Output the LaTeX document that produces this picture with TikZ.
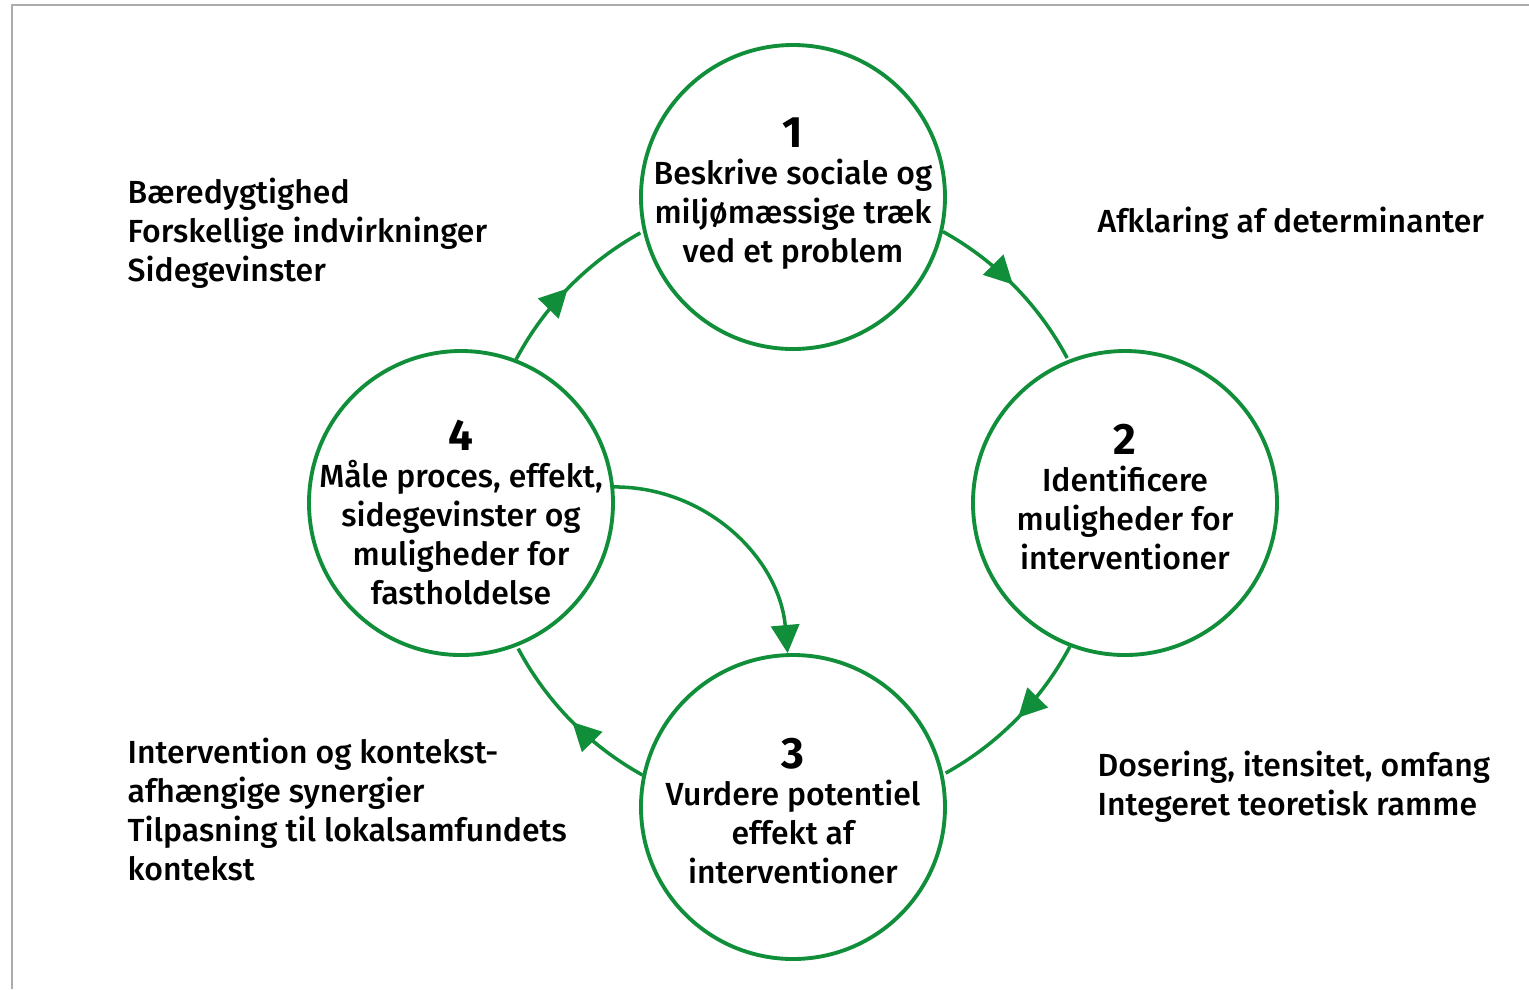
\documentclass[tikz,border=0pt]{standalone}
\usepackage{fontspec}
\setmainfont{Fira Sans}[UprightFont={* Medium}, BoldFont={* Bold}]
\usetikzlibrary{arrows.meta,decorations.markings}

\definecolor{cyclegreen}{RGB}{16,142,58}
\definecolor{framegray}{RGB}{172,172,172}

\tikzset{
    fase/.style={circle, draw=cyclegreen, line width=1.1pt, minimum size=3.04cm, inner sep=0pt},
    fasetekst/.style={align=center, inner sep=0pt, font=\fontsize{9.1}{11.1}\selectfont},
    pil/.style={cyclegreen, line width=1pt},
    midpil/.style={pil, postaction={decorate},
        decoration={markings, mark=at position 0.49 with {\arrow{Triangle[length=8pt,width=8pt]}}}},
    sidetekst/.style={anchor=north west, inner sep=0pt, align=left,
        font=\fontsize{9.1}{11.1}\selectfont},
}
\newcommand{\nr}[1]{{\fontsize{12.5}{14}\selectfont\bfseries #1}}

\begin{document}
\begin{tikzpicture}
    % Frame of the page (1 unit = 100 px, origin at the centre of the cycle)
    \useasboundingbox (-7.93,-4.86) rectangle (7.36,5.03);
    \draw[framegray, line width=0.8pt] (7.36,4.98) -- (-7.81,4.98) -- (-7.81,-4.86);

    % The four phases
    \node[fase, label={[fasetekst, yshift=1pt]center:\nr{1}\\[-0.6pt]Beskrive sociale og\\miljømæssige træk\\ved et problem}] (fase1) at (0,3.06) {};
    \node[fase, label={[fasetekst, yshift=1.7pt]center:\nr{2}\\[-0.6pt]Identificere\\muligheder for\\interventioner}] (fase2) at (3.32,0) {};
    \node[fase, label={[fasetekst, yshift=-1.2pt]center:\nr{3}\\[-0.6pt]Vurdere potentiel\\effekt af\\interventioner}] (fase3) at (0,-3.04) {};
    \node[fase, label={[fasetekst, yshift=-2.6pt]center:\nr{4}\\[-0.6pt]Måle proces, effekt,\\sidegevinster og\\muligheder for\\fastholdelse}] (fase4) at (-3.32,0) {};

    % Cycle arrows (arcs round the centre, radius 3.12)
    \draw[midpil] (fase1.-13) arc[start angle=61, end angle=28, radius=3.12];
    \draw[midpil] (fase2.-111) arc[start angle=-28, end angle=-61, radius=3.12];
    \draw[midpil] (fase3.168) arc[start angle=241, end angle=208, radius=3.12];
    \draw[midpil] (fase4.69) arc[start angle=152, end angle=119, radius=3.12];

    % Shortcut from 4 back to 3
    \draw[pil, -{Triangle[length=8pt,width=8pt]}] (fase4.6) to[out=0, in=95] (fase3.92);

    % Side texts
    \node[sidetekst] (tekst41) at (-6.66,3.26) {Bæredygtighed\\Forskellige indvirkninger\\Sidegevinster};
    \node[sidetekst, anchor=west] (tekst12) at (3.04,2.80) {Afklaring af determinanter};
    \node[sidetekst] (tekst23) at (3.04,-2.47) {Dosering, itensitet, omfang\\Integeret teoretisk ramme};
    \node[sidetekst] (tekst34) at (-6.66,-2.34) {Intervention og kontekst-\\afhængige synergier\\Tilpasning til lokalsamfundets\\kontekst};
\end{tikzpicture}
\end{document}
